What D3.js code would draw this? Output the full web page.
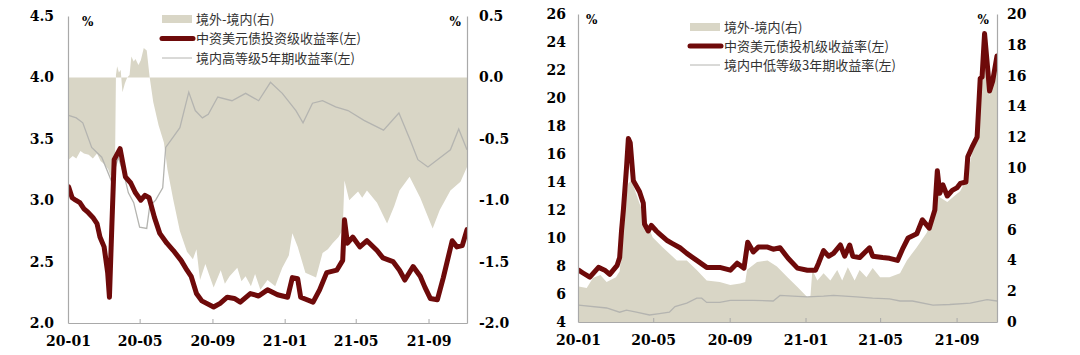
<!DOCTYPE html>
<html><head><meta charset="utf-8">
<script src="https://cdn.jsdelivr.net/npm/d3@7"></script>
<style>body{margin:0;background:#fff}svg{display:block}</style>
</head><body>
<svg id="c" width="1080" height="355"></svg>
<script>
// ---------- shared axis data ----------
const xTickDates = ["2020-01-01","2020-05-01","2020-09-01","2021-01-01","2021-05-01","2021-09-01"];
const xTickLabels = ["20-01","20-05","20-09","21-01","21-05","21-09"];
const xDomain = ["2020-01-01","2021-11-05"];

// ---------- left panel ----------
const lLeftTicks = [2.0,2.5,3.0,3.5,4.0,4.5];
const lLeftLabels = ["2.0","2.5","3.0","3.5","4.0","4.5"];
const lRightTicks = [-2.0,-1.5,-1.0,-0.5,0.0,0.5];
const lRightLabels = ["-2.0","-1.5","-1.0","-0.5","0.0","0.5"];
const lLegend = ["境外-境内(右)","中资美元债投资级收益率(左)","境内高等级5年期收益率(左)"];

const lSpreadDates = ["2020-01-02","2020-01-09","2020-01-15","2020-01-22","2020-01-28","2020-02-05","2020-02-12","2020-02-19","2020-02-25","2020-03-03","2020-03-09","2020-03-14","2020-03-20","2020-03-22","2020-03-24","2020-03-27","2020-03-30","2020-04-02","2020-04-06","2020-04-10","2020-04-14","2020-04-17","2020-04-21","2020-04-24","2020-04-29","2020-05-03","2020-05-08","2020-05-13","2020-05-18","2020-05-24","2020-06-02","2020-06-11","2020-06-17","2020-06-27","2020-07-08","2020-07-20","2020-07-30","2020-08-05","2020-08-11","2020-08-20","2020-09-03","2020-09-15","2020-09-22","2020-09-30","2020-10-13","2020-10-20","2020-10-27","2020-11-05","2020-11-12","2020-11-21","2020-12-03","2020-12-16","2020-12-28","2021-01-08","2021-01-14","2021-01-23","2021-02-05","2021-02-23","2021-03-06","2021-03-15","2021-03-23","2021-04-02","2021-04-09","2021-04-12","2021-04-20","2021-05-05","2021-05-12","2021-05-20","2021-06-06","2021-06-23","2021-07-05","2021-07-14","2021-07-31","2021-08-18","2021-09-08","2021-09-20","2021-10-08","2021-10-25","2021-11-05"];
const lSpreadValues = [-0.67,-0.64,-0.66,-0.60,-0.62,-0.63,-0.66,-0.62,-0.68,-0.71,-0.75,-0.82,-0.90,0.02,0.09,0.04,0.06,-0.12,-0.05,0.0,0.02,0.17,0.13,0.15,0.10,0.14,0.24,0.22,0.0,-0.20,-0.39,-0.53,-0.75,-1.00,-1.25,-1.42,-1.48,-1.40,-1.65,-1.52,-1.71,-1.57,-1.68,-1.62,-1.55,-1.66,-1.62,-1.70,-1.60,-1.73,-1.65,-1.70,-1.55,-1.45,-1.27,-1.38,-1.59,-1.63,-1.43,-1.40,-1.35,-1.30,-1.24,-0.84,-1.00,-0.93,-0.98,-0.92,-1.02,-1.19,-1.05,-0.92,-0.81,-0.98,-1.23,-1.08,-0.92,-0.85,-0.73];

const lIgDates = ["2020-01-02","2020-01-08","2020-01-14","2020-01-21","2020-01-28","2020-02-04","2020-02-12","2020-02-19","2020-02-24","2020-03-02","2020-03-08","2020-03-11","2020-03-15","2020-03-19","2020-03-29","2020-04-07","2020-04-16","2020-04-24","2020-05-03","2020-05-10","2020-05-17","2020-05-26","2020-06-04","2020-06-16","2020-06-27","2020-07-10","2020-07-20","2020-07-27","2020-08-05","2020-08-14","2020-09-03","2020-09-14","2020-09-26","2020-10-08","2020-10-18","2020-11-04","2020-11-18","2020-12-03","2020-12-20","2021-01-06","2021-01-14","2021-01-23","2021-01-28","2021-02-18","2021-03-01","2021-03-13","2021-03-30","2021-04-09","2021-04-12","2021-04-17","2021-04-26","2021-05-08","2021-05-20","2021-06-06","2021-06-16","2021-07-03","2021-07-14","2021-07-23","2021-08-06","2021-08-18","2021-08-26","2021-09-04","2021-09-16","2021-09-26","2021-10-11","2021-10-19","2021-10-28","2021-11-05"];
const lIgValues = [3.11,3.02,3.00,2.98,2.93,2.90,2.86,2.81,2.70,2.62,2.41,2.21,2.78,3.33,3.42,3.19,3.14,3.06,3.00,3.04,3.02,2.86,2.73,2.65,2.59,2.51,2.43,2.38,2.24,2.18,2.13,2.16,2.21,2.20,2.17,2.24,2.22,2.27,2.23,2.21,2.37,2.36,2.21,2.17,2.27,2.41,2.43,2.51,2.84,2.65,2.70,2.62,2.67,2.59,2.53,2.50,2.43,2.35,2.46,2.38,2.29,2.20,2.19,2.37,2.67,2.62,2.63,2.76];

const lHgDates = ["2020-01-02","2020-01-15","2020-01-26","2020-02-10","2020-02-27","2020-03-14","2020-03-26","2020-04-04","2020-04-12","2020-04-21","2020-05-01","2020-05-13","2020-05-18","2020-05-28","2020-06-09","2020-06-14","2020-06-26","2020-07-08","2020-07-23","2020-08-03","2020-08-15","2020-08-25","2020-09-10","2020-10-04","2020-10-27","2020-11-18","2020-12-08","2020-12-28","2021-01-20","2021-02-01","2021-02-17","2021-03-06","2021-03-28","2021-04-18","2021-05-15","2021-06-17","2021-07-13","2021-08-01","2021-08-14","2021-08-31","2021-09-16","2021-10-08","2021-10-22","2021-11-05"];
const lHgValues = [3.69,3.67,3.63,3.43,3.35,3.16,3.35,3.22,3.06,2.98,2.78,2.77,2.95,3.00,3.10,3.43,3.51,3.59,3.88,3.73,3.67,3.70,3.84,3.81,3.87,3.81,3.96,3.87,3.73,3.63,3.79,3.81,3.76,3.73,3.65,3.57,3.71,3.49,3.33,3.27,3.33,3.41,3.58,3.41];

// ---------- right panel ----------
const rLeftTicks = [4,6,8,10,12,14,16,18,20,22,24,26];
const rLeftLabels = ["4","6","8","10","12","14","16","18","20","22","24","26"];
const rRightTicks = [0,2,4,6,8,10,12,14,16,18,20];
const rRightLabels = ["0","2","4","6","8","10","12","14","16","18","20"];
const rLegend = ["境外-境内(右)","中资美元债投机级收益率(左)","境内中低等级3年期收益率(左)"];

const rSpreadDates = ["2020-01-02","2020-01-15","2020-01-25","2020-02-06","2020-02-16","2020-03-02","2020-03-08","2020-03-11","2020-03-16","2020-03-22","2020-03-27","2020-04-09","2020-04-30","2020-05-16","2020-06-08","2020-06-24","2020-07-10","2020-07-26","2020-08-16","2020-09-02","2020-09-18","2020-09-26","2020-09-29","2020-10-15","2020-11-01","2020-11-16","2020-12-03","2020-12-19","2020-12-28","2021-01-04","2021-01-09","2021-01-12","2021-01-20","2021-01-30","2021-02-10","2021-02-21","2021-03-01","2021-03-10","2021-03-21","2021-03-29","2021-04-09","2021-04-19","2021-05-01","2021-05-16","2021-06-02","2021-06-13","2021-06-29","2021-07-15","2021-07-25","2021-08-01","2021-08-05","2021-08-17","2021-08-26","2021-09-07","2021-09-18","2021-09-26","2021-10-04","2021-10-09","2021-10-12","2021-10-16","2021-10-21","2021-10-24","2021-10-29","2021-11-05"];
const rSpreadValues = [2.3,2.2,2.85,3.05,2.6,2.9,3.3,4.5,7.7,9.0,9.2,7.7,5.5,4.85,4.0,4.0,3.37,2.7,2.6,2.4,2.5,2.6,3.4,3.9,4.0,3.6,2.9,2.27,1.9,1.6,1.7,3.37,2.7,3.17,2.7,3.37,2.7,3.56,2.7,3.37,2.9,3.5,2.9,2.9,3.17,4.0,4.85,5.8,7.05,9.0,8.1,7.8,8.1,8.5,9.4,11.0,11.7,15.4,15.5,18.6,16.1,14.7,15.3,17.0];

const rHyDates = ["2020-01-02","2020-01-09","2020-01-20","2020-02-03","2020-02-13","2020-02-21","2020-03-04","2020-03-08","2020-03-11","2020-03-14","2020-03-19","2020-03-22","2020-03-25","2020-03-30","2020-04-09","2020-04-15","2020-04-17","2020-04-23","2020-04-28","2020-05-06","2020-05-11","2020-05-24","2020-06-01","2020-06-13","2020-06-24","2020-07-10","2020-07-26","2020-08-16","2020-09-02","2020-09-13","2020-09-24","2020-09-30","2020-10-09","2020-10-17","2020-11-01","2020-11-10","2020-11-21","2020-12-04","2020-12-19","2021-01-04","2021-01-17","2021-01-22","2021-01-30","2021-02-07","2021-02-15","2021-02-26","2021-03-05","2021-03-13","2021-03-18","2021-03-29","2021-04-14","2021-04-19","2021-05-05","2021-05-16","2021-05-29","2021-06-07","2021-06-15","2021-06-29","2021-07-08","2021-07-19","2021-07-28","2021-08-01","2021-08-05","2021-08-10","2021-08-17","2021-08-25","2021-09-02","2021-09-07","2021-09-16","2021-09-19","2021-09-26","2021-10-04","2021-10-09","2021-10-12","2021-10-16","2021-10-21","2021-10-24","2021-10-29","2021-11-05"];
const rHyValues = [7.7,7.5,7.2,7.9,7.7,7.4,8.05,8.6,10.5,12.0,15.0,17.1,16.8,14.1,13.3,12.5,11.0,10.5,10.9,10.5,10.3,9.8,9.6,9.3,8.9,8.4,7.9,7.9,7.7,8.2,7.85,9.7,9.0,9.35,9.35,9.2,9.3,8.55,7.85,7.7,7.7,8.2,9.1,8.7,8.9,9.5,8.7,9.5,8.7,8.6,9.3,8.7,8.6,8.55,8.4,9.3,10.0,10.3,11.3,10.7,12.0,14.8,13.2,13.8,13.0,13.4,13.6,13.9,14.0,15.8,16.5,17.2,21.4,21.5,24.6,22.1,20.5,21.2,23.0];

const rLgDates = ["2020-01-02","2020-02-16","2020-03-08","2020-03-19","2020-04-04","2020-04-25","2020-05-11","2020-05-27","2020-06-05","2020-06-24","2020-07-10","2020-07-18","2020-07-26","2020-08-16","2020-09-02","2020-10-09","2020-11-10","2020-11-21","2020-12-12","2021-01-04","2021-01-30","2021-02-15","2021-03-24","2021-04-19","2021-05-16","2021-06-02","2021-06-22","2021-07-25","2021-08-21","2021-09-23","2021-10-20","2021-11-05"];
const rLgValues = [5.2,5.0,4.7,4.85,4.7,4.5,4.6,4.7,5.1,5.35,5.7,5.7,5.4,5.4,5.55,5.55,5.5,5.9,5.85,5.8,5.85,5.9,5.8,5.7,5.65,5.5,5.5,5.2,5.25,5.35,5.6,5.5];

// ---------- drawing ----------
const parse = d3.timeParse("%Y-%m-%d");
const zip = (ds, vs) => ds.map((d, i) => ({ date: parse(d), value: vs[i] }));
const svg = d3.select("#c");
const AREA = "#d9d6c6", RED = "#6e0a0a", GRAY = "#b4b4b0", AXIS = "#a9a9a9";
const TICKFONT = "'DejaVu Serif', 'Liberation Serif', serif";
const CJK = "'Noto Sans CJK SC', 'Noto Sans', sans-serif";

function panel(cfg) {
  const g = svg.append("g");
  const x = d3.scaleTime().domain(xDomain.map(parse)).range([cfg.x0, cfg.x1]);
  const yL = d3.scaleLinear().domain(cfg.lDomain).range([cfg.yb, cfg.yt]);
  const yR = d3.scaleLinear().domain(cfg.rDomain).range([cfg.yb, cfg.yt]);
  const clipId = "clip" + cfg.id;
  g.append("clipPath").attr("id", clipId).append("rect")
    .attr("x", cfg.x0).attr("y", cfg.yt - 3).attr("width", cfg.x1 - cfg.x0).attr("height", cfg.yb - cfg.yt + 3);
  const plot = g.append("g").attr("clip-path", `url(#${clipId})`);

  const spread = zip(cfg.spreadDates, cfg.spreadValues);
  plot.append("path").datum(spread)
    .attr("fill", AREA)
    .attr("d", d3.area().x(d => x(d.date)).y0(yR(0)).y1(d => yR(d.value)));

  const grayData = zip(cfg.grayDates, cfg.grayValues);
  plot.append("path").datum(grayData).attr("fill", "none").attr("stroke", GRAY).attr("stroke-width", 1.3)
    .attr("d", d3.line().x(d => x(d.date)).y(d => yL(d.value)));

  const redData = zip(cfg.redDates, cfg.redValues);
  plot.append("path").datum(redData).attr("fill", "none").attr("stroke", RED).attr("stroke-width", 5)
    .attr("stroke-linejoin", "round").attr("stroke-linecap", "round")
    .attr("d", d3.line().x(d => x(d.date)).y(d => yL(d.value)));

  // axes
  const xAxis = d3.axisBottom(x).tickValues(xTickDates.map(parse))
    .tickFormat((d, i) => xTickLabels[i]).tickSize(-4).tickSizeOuter(0).tickPadding(13);
  const gx = g.append("g").attr("transform", `translate(0,${cfg.yb})`).call(xAxis);
  const yAxL = d3.axisLeft(yL).tickValues(cfg.lTicks).tickFormat((d, i) => cfg.lLabels[i])
    .tickSize(0).tickPadding(cfg.padL);
  const gyl = g.append("g").attr("transform", `translate(${cfg.x0},0)`).call(yAxL);
  const yAxR = d3.axisRight(yR).tickValues(cfg.rTicks).tickFormat((d, i) => cfg.rLabels[i])
    .tickSize(0).tickPadding(cfg.padR);
  const gyr = g.append("g").attr("transform", `translate(${cfg.x1},0)`).call(yAxR);
  [gx, gyl, gyr].forEach(a => {
    a.select(".domain").attr("stroke", AXIS).attr("stroke-width", 1.2);
    a.selectAll(".tick line").attr("stroke", AXIS);
    a.selectAll("text").attr("font-family", TICKFONT).attr("font-weight", "bold")
      .attr("font-size", 14).attr("fill", "#000");
  });

  // % marks
  [[cfg.pctL, "start"], [cfg.pctR, "end"]].forEach(([px, anc]) => {
    g.append("text").attr("x", px).attr("y", cfg.yt + 10).attr("text-anchor", anc)
      .attr("font-family", TICKFONT).attr("font-weight", "bold")
      .attr("font-size", 12).attr("fill", "#000").text("%");
  });

  // legend
  const lg = g.append("g");
  cfg.legend.forEach((t, i) => {
    const cy = cfg.legY + i * cfg.legStep;
    if (i === 0) lg.append("rect").attr("x", cfg.legX).attr("y", cy - 4).attr("width", 30).attr("height", 8).attr("fill", AREA);
    if (i === 1) lg.append("line").attr("x1", cfg.legX).attr("x2", cfg.legX + 31).attr("y1", cy).attr("y2", cy)
      .attr("stroke", RED).attr("stroke-width", 5).attr("stroke-linecap", "round");
    if (i === 2) lg.append("line").attr("x1", cfg.legX).attr("x2", cfg.legX + 30).attr("y1", cy).attr("y2", cy)
      .attr("stroke", GRAY).attr("stroke-width", 1);
    lg.append("text").attr("x", cfg.legX + 34).attr("y", cy + 4.5)
      .attr("font-family", CJK).attr("font-size", 13).attr("fill", "#333").text(t);
  });
}

panel({
  id: "L", x0: 68, x1: 467, yt: 16, yb: 323,
  lDomain: [2.0, 4.5], rDomain: [-2.0, 0.5],
  lTicks: lLeftTicks, lLabels: lLeftLabels, rTicks: lRightTicks, rLabels: lRightLabels,
  padL: 14, padR: 12,
  spreadDates: lSpreadDates, spreadValues: lSpreadValues,
  redDates: lIgDates, redValues: lIgValues,
  grayDates: lHgDates, grayValues: lHgValues,
  legend: lLegend, legX: 162, legY: 19, legStep: 19.5,
  pctL: 82, pctR: 461
});

panel({
  id: "R", x0: 578, x1: 997, yt: 14, yb: 322,
  lDomain: [4, 26], rDomain: [0, 20],
  lTicks: rLeftTicks, lLabels: rLeftLabels, rTicks: rRightTicks, rLabels: rRightLabels,
  padL: 12, padR: 10,
  spreadDates: rSpreadDates, spreadValues: rSpreadValues,
  redDates: rHyDates, redValues: rHyValues,
  grayDates: rLgDates, grayValues: rLgValues,
  legend: rLegend, legX: 690, legY: 27, legStep: 19,
  pctL: 586, pctR: 989
});
</script>
</body></html>
